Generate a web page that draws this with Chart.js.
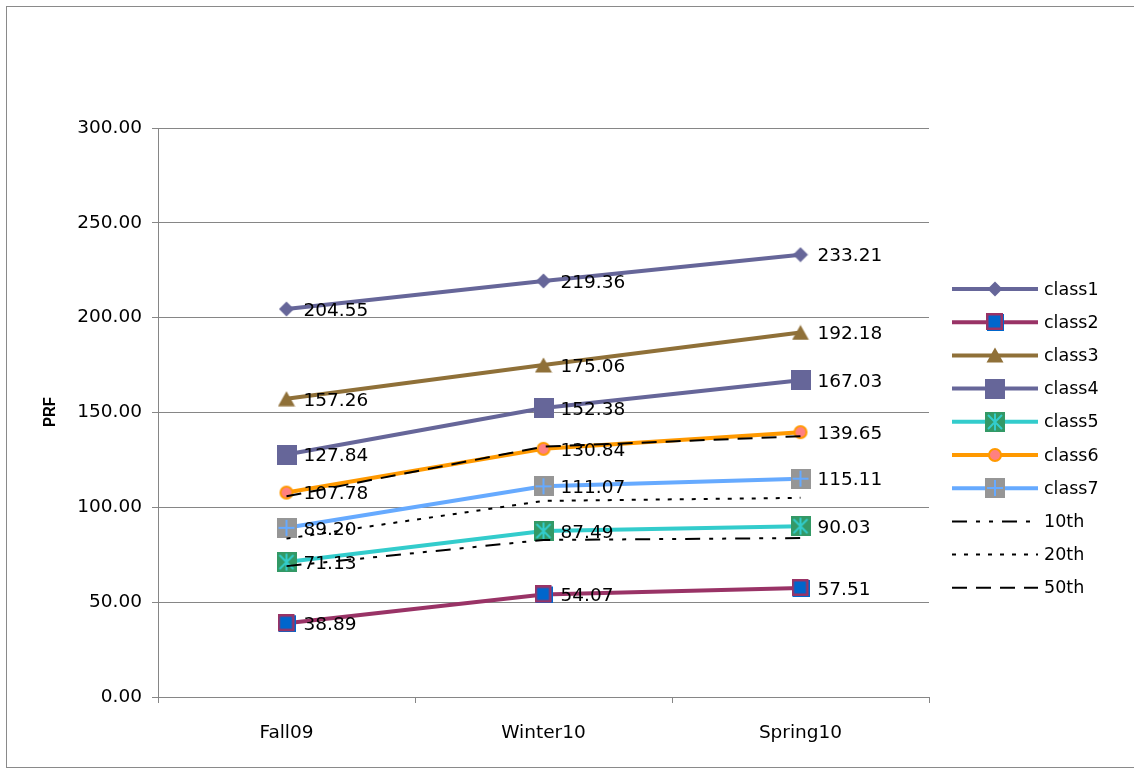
<!DOCTYPE html>
<html>
<head>
<meta charset="utf-8">
<script src="https://cdn.jsdelivr.net/npm/chart.js@4/dist/chart.umd.min.js"></script>
<style>
html,body{margin:0;padding:0;background:#fff;}
canvas{display:block;}
</style>
</head>
<body>
<canvas id="c" width="1134" height="769"></canvas>
<script>
const categories = ["Fall09", "Winter10", "Spring10"];
const class1 = [204.55, 219.36, 233.21];
const class2 = [38.89, 54.07, 57.51];
const class3 = [157.26, 175.06, 192.18];
const class4 = [127.84, 152.38, 167.03];
const class5 = [71.13, 87.49, 90.03];
const class6 = [107.78, 130.84, 139.65];
const class7 = [89.20, 111.07, 115.11];
const p10th = [69.0, 82.8, 83.8];
const p20th = [83.5, 103.4, 105.0];
const p50th = [105.8, 132.0, 137.5];
const yTicks = [0, 50, 100, 150, 200, 250, 300];
const seriesNames = ["class1","class2","class3","class4","class5","class6","class7","10th","20th","50th"];

const FONT = "DejaVu Sans";

function mk(w, h, draw) {
  const c = document.createElement('canvas');
  c.width = w; c.height = h;
  const g = c.getContext('2d');
  draw(g, w, h);
  return c;
}
const mDiamond = mk(16, 16, g => {
  g.fillStyle = '#666699';
  g.beginPath(); g.moveTo(8, 0.5); g.lineTo(15.5, 8); g.lineTo(8, 15.5); g.lineTo(0.5, 8); g.closePath(); g.fill();
});
const mSq2 = mk(18, 18, g => {
  g.fillStyle = '#0066CC'; g.fillRect(1, 1, 17, 17);
  g.strokeStyle = '#993366'; g.lineWidth = 2.5; g.strokeRect(1.25, 1.25, 14.5, 14.5);
});
const mTri = mk(18, 16, g => {
  g.fillStyle = '#8F7038';
  g.beginPath(); g.moveTo(9, 0.5); g.lineTo(17.5, 15.5); g.lineTo(0.5, 15.5); g.closePath(); g.fill();
});
const mSq4 = mk(20, 20, g => { g.fillStyle = '#666699'; g.fillRect(0, 0, 20, 20); });
const mStar = mk(20, 20, g => {
  g.fillStyle = '#339966'; g.fillRect(0, 0, 20, 20);
  g.strokeStyle = '#33CCCC'; g.lineWidth = 2;
  g.beginPath();
  g.moveTo(3, 3); g.lineTo(17, 17);
  g.moveTo(17, 3); g.lineTo(3, 17);
  g.moveTo(10, 1.5); g.lineTo(10, 18.5);
  g.stroke();
});
const mCirc = mk(16, 16, g => {
  g.fillStyle = '#FF8080'; g.strokeStyle = '#FF9900'; g.lineWidth = 2;
  g.beginPath(); g.arc(8, 8, 6, 0, Math.PI * 2); g.fill(); g.stroke();
});
const mPlus = mk(20, 20, g => {
  g.fillStyle = '#969696'; g.fillRect(0, 0, 20, 20);
  g.strokeStyle = '#66AAFF'; g.lineWidth = 2;
  g.beginPath();
  g.moveTo(10, 2); g.lineTo(10, 18);
  g.moveTo(2, 10); g.lineTo(18, 10);
  g.stroke();
});

function classDs(i, data, color, marker) {
  return {
    label: seriesNames[i], data: data, borderColor: color, backgroundColor: color,
    borderWidth: 4, pointStyle: marker, pointRadius: 8, pointHoverRadius: 8,
    tension: 0, order: 7 - i, isClass: true
  };
}
function pctDs(i, data, dash) {
  return {
    label: seriesNames[i], data: data, borderColor: '#000', backgroundColor: '#000',
    borderWidth: 2, borderDash: dash, pointRadius: 0, tension: 0, order: 0, isClass: false
  };
}

const datasets = [
  classDs(0, class1, '#666699', mDiamond),
  classDs(1, class2, '#993366', mSq2),
  classDs(2, class3, '#8F7038', mTri),
  classDs(3, class4, '#666699', mSq4),
  classDs(4, class5, '#33CCCC', mStar),
  classDs(5, class6, '#FF9900', mCirc),
  classDs(6, class7, '#66AAFF', mPlus),
  pctDs(7, p10th, [15, 9, 4, 9, 4, 9]),
  pctDs(8, p20th, [4, 8]),
  pctDs(9, p50th, [15, 9])
];

const decor = {
  id: 'decor',
  beforeDraw(chart) {
    const ctx = chart.ctx;
    ctx.save();
    ctx.fillStyle = '#fff';
    ctx.fillRect(0, 0, chart.width, chart.height);
    ctx.strokeStyle = '#8a8a8a'; ctx.lineWidth = 1;
    ctx.strokeRect(6.5, 6.5, 1140, 761);
    ctx.restore();
  },
  afterDatasetsDraw(chart) {
    const ctx = chart.ctx;
    ctx.save();
    ctx.fillStyle = '#000';
    ctx.font = '18.5px "' + FONT + '"';
    ctx.textBaseline = 'middle';
    ctx.textAlign = 'left';
    chart.data.datasets.forEach((ds, di) => {
      if (!ds.isClass) return;
      const meta = chart.getDatasetMeta(di);
      meta.data.forEach((pt, i) => {
        ctx.fillText(ds.data[i].toFixed(2), pt.x + 17, pt.y + 2);
      });
    });
    ctx.restore();
  },
  afterDraw(chart) {
    const ctx = chart.ctx;
    ctx.save();
    ctx.translate(50, 412);
    ctx.rotate(-Math.PI / 2);
    ctx.scale(0.88, 1);
    ctx.font = 'bold 17px "Liberation Sans"';
    ctx.fillStyle = '#000';
    ctx.textAlign = 'center';
    ctx.textBaseline = 'middle';
    ctx.fillText('PRF', 0, 0);
    ctx.restore();

    ctx.save();
    const x0 = 952, x1 = 1038, tx = 1044;
    chart.data.datasets.forEach((ds, i) => {
      const y = 289 + i * 33.2;
      ctx.beginPath();
      ctx.strokeStyle = ds.borderColor;
      ctx.lineWidth = ds.borderWidth;
      ctx.setLineDash(ds.borderDash || []);
      ctx.moveTo(x0, y); ctx.lineTo(x1, y);
      ctx.stroke();
      ctx.setLineDash([]);
      if (ds.isClass) {
        const m = ds.pointStyle;
        ctx.drawImage(m, Math.round(995 - m.width / 2), Math.round(y - m.height / 2));
      }
      ctx.fillStyle = '#000';
      ctx.font = '17.5px "' + FONT + '"';
      ctx.textBaseline = 'middle';
      ctx.textAlign = 'left';
      ctx.fillText(ds.label, tx, y + 1);
    });
    ctx.restore();
  }
};

new Chart(document.getElementById('c'), {
  type: 'line',
  data: { labels: categories, datasets: datasets },
  options: {
    responsive: false,
    animation: false,
    devicePixelRatio: 1,
    layout: { padding: { left: 0, right: 1134 - 929, top: 128, bottom: 0 } },
    plugins: { legend: { display: false }, tooltip: { enabled: false } },
    scales: {
      x: {
        offset: true,
        grid: { offset: true, drawOnChartArea: false, color: '#868686', tickLength: 6 },
        border: { color: '#868686' },
        ticks: { color: '#000', font: { family: FONT, size: 18.5 }, padding: 19 },
        afterFit(s) { s.height = 72; }
      },
      y: {
        min: 0, max: 300,
        afterBuildTicks(s) { s.ticks = yTicks.map(v => ({ value: v })); },
        grid: { color: '#868686', tickLength: 6 },
        border: { color: '#868686' },
        ticks: {
          color: '#000', font: { family: FONT, size: 18.5 }, padding: 10,
          callback: v => Number(v).toFixed(2)
        },
        afterFit(s) { s.width = 158; }
      }
    }
  },
  plugins: [decor]
});
</script>
</body>
</html>
